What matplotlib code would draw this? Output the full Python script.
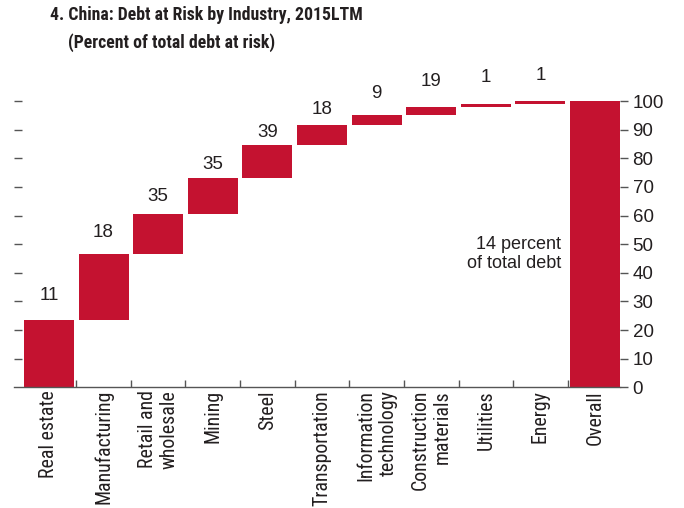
import matplotlib
matplotlib.use("Agg")
import matplotlib.pyplot as plt
from matplotlib import font_manager as fm

# ---- data ----
categories = ["Real estate", "Manufacturing", "Retail and\nwholesale", "Mining", "Steel",
              "Transportation", "Information\ntechnology", "Construction\nmaterials",
              "Utilities", "Energy", "Overall"]
share_of_risk = [23.5, 23.0, 14.0, 12.5, 11.5, 7.0, 3.5, 3.0, 1.0, 1.0]   # segment heights
pct_at_risk_labels = ["11", "18", "35", "35", "39", "18", "9", "19", "1", "1"]
overall_total = 100
overall_note = "14 percent\nof total debt"
y_ticks = [0, 10, 20, 30, 40, 50, 60, 70, 80, 90, 100]
title_line1 = "4. China: Debt at Risk by Industry, 2015LTM"
title_line2 = "(Percent of total debt at risk)"

# ---- layout/style ----
label_offsets_px = [25, 22, 18, 14, 13, 16, 22, 25, 26, 25]
BAR = "#C41230"
TXT = "#231F20"
GRAY = "#555555"

available = set(f.name for f in fm.fontManager.ttflist)
COND = None
for cand in ["Roboto Condensed", "Liberation Sans Narrow", "Archivo Narrow", "Asap Condensed"]:
    if cand in available:
        COND = cand
        break
CONDFONT = [COND, "DejaVu Sans"] if COND else ["Liberation Sans", "DejaVu Sans"]
cat_size = 14.3 if COND else 12.3
title_size = 12.8 if COND else 11
NUMFONT = ["Liberation Sans", "DejaVu Sans"]

fig = plt.figure(figsize=(6.84, 5.08), dpi=100)
W, H = 684, 508
left_px, right_px, bot_px, top_px = 14, 620, 387.3, 101
ax = fig.add_axes([left_px / W, 1 - bot_px / H, (right_px - left_px) / W, (bot_px - top_px) / H])

n = len(share_of_risk)
bottoms = []
run = 0
for v in share_of_risk:
    bottoms.append(run)
    run += v
xs = list(range(n))
width = 0.915
ax.bar(xs, share_of_risk, bottom=bottoms, width=width, color=BAR, linewidth=0)
ax.bar([n], [overall_total], width=width, color=BAR, linewidth=0)

for i in range(n):
    top = bottoms[i] + share_of_risk[i]
    ax.annotate(pct_at_risk_labels[i], (xs[i], top), xytext=(0, label_offsets_px[i] * 0.72),
                textcoords="offset points", ha="center", va="center", fontsize=13.5,
                color=TXT, family=NUMFONT, annotation_clip=False)

ax.text(n - width / 2 - 0.17, 46.5, overall_note, ha="right", va="center", fontsize=13,
        color=TXT, family=NUMFONT, linespacing=1.15)

ax.set_xlim(-0.64, n + width / 2)
ax.set_ylim(0, 100)

for s in ["top", "right", "left"]:
    ax.spines[s].set_visible(False)
ax.spines["bottom"].set_color(GRAY)
ax.spines["bottom"].set_linewidth(1.0)

# x axis: labels at centers, tick marks at boundaries
ax.set_xticks(list(range(n + 1)))
ax.set_xticklabels(categories, rotation=90, fontsize=cat_size, color=TXT, family=CONDFONT,
                   linespacing=1.22)
for lab in ax.get_xticklabels():
    lab.set_multialignment("right")
ax.tick_params(axis="x", which="major", length=0, pad=2)
ax.set_xticks([i + 0.5 for i in range(n)], minor=True)
ax.tick_params(axis="x", which="minor", direction="in", length=5, width=1.0, color=GRAY)

# left ticks (no labels)
ax.set_yticks(y_ticks[1:])
ax.tick_params(axis="y", which="major", direction="in", length=5.8, width=1.0, color=GRAY,
               labelleft=False)

# right axis
ax2 = ax.twinx()
ax2.set_ylim(0, 100)
for s in ["top", "right", "left", "bottom"]:
    ax2.spines[s].set_visible(False)
ax2.set_yticks(y_ticks)
ax2.set_yticklabels([str(t) for t in y_ticks], fontsize=13.5, color=TXT, family=NUMFONT)
ax2.tick_params(axis="y", direction="out", length=6, width=1.0, color=GRAY, pad=3)

fig.text(50 / W, 1 - 20.5 / H, title_line1, fontsize=title_size,
         fontweight="bold", color=TXT, family=CONDFONT, va="baseline", ha="left")
fig.text(68 / W, 1 - 48 / H, title_line2, fontsize=title_size,
         fontweight="bold", color=TXT, family=CONDFONT, va="baseline", ha="left")

fig.savefig("out.png", dpi=100)
